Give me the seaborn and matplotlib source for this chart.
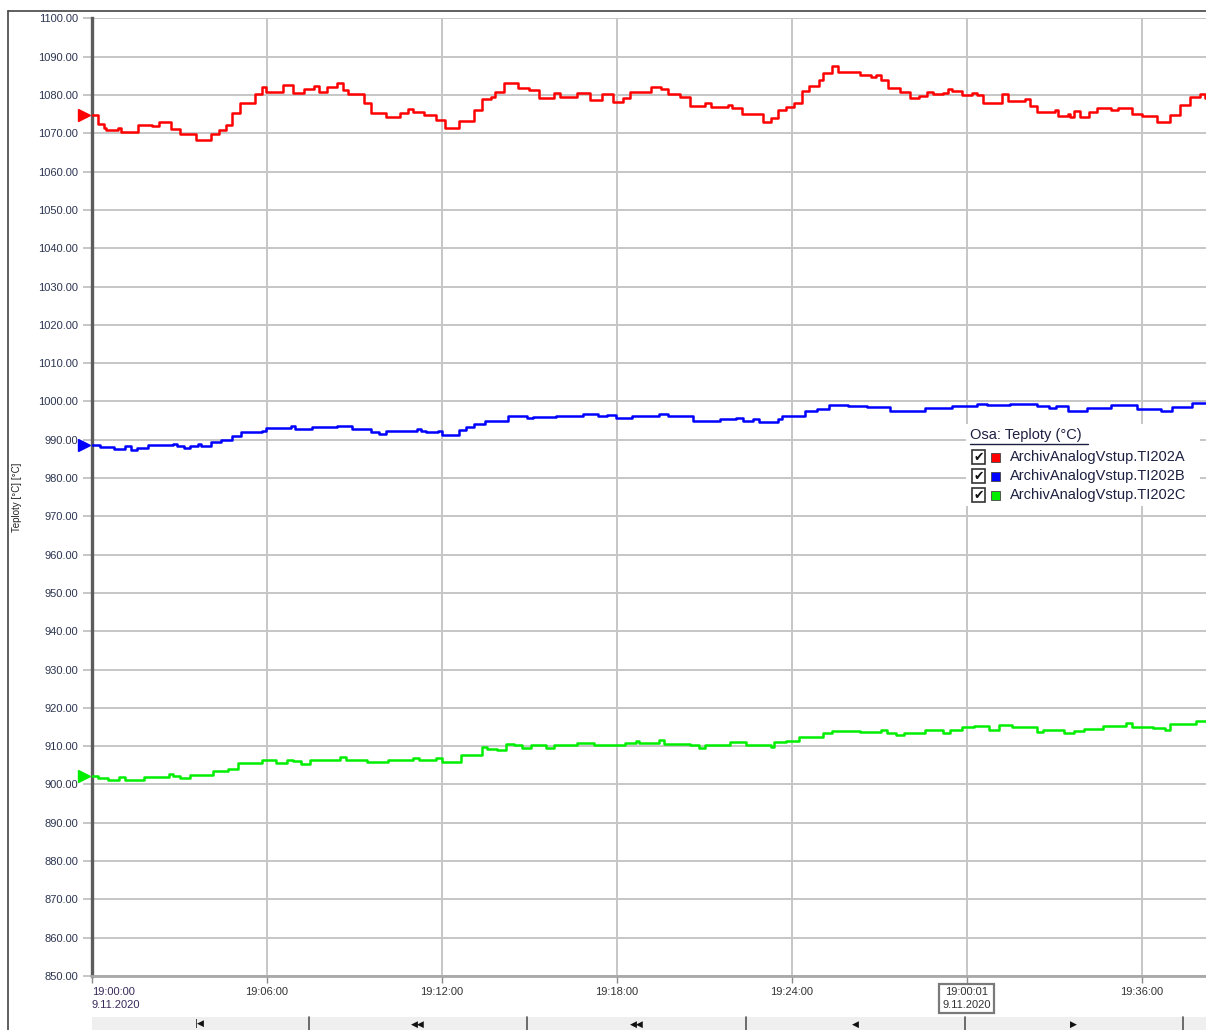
import numpy as np
import pandas as pd
import seaborn as sns
import matplotlib
matplotlib.use("Agg")
import matplotlib.pyplot as plt
import matplotlib.transforms as mtransforms
from matplotlib.patches import Rectangle
from matplotlib.lines import Line2D

# ---------------- data (minutes after 19:00:00, temperature in degC) ----------------
t_red = [0.0, 0.22, 0.42, 0.48, 0.88, 1.01, 1.59, 2.05, 2.31, 2.71,
         3.03, 3.56, 4.08, 4.34, 4.60, 4.80, 5.06, 5.58, 5.84, 5.97,
         6.56, 6.89, 7.28, 7.61, 7.80, 8.07, 8.39, 8.59, 8.78, 9.31,
         9.57, 10.09, 10.55, 10.85, 11.01, 11.40, 11.79, 12.12, 12.58, 13.10,
         13.36, 13.69, 13.82, 14.14, 14.60, 14.99, 15.32, 15.84, 16.04, 16.63,
         17.08, 17.48, 17.87, 18.20, 18.46, 19.18, 19.50, 19.76, 20.16, 20.49,
         21.02, 21.22, 21.81, 21.95, 22.28, 23.01, 23.27, 23.54, 23.80, 24.07,
         24.33, 24.60, 24.93, 25.06, 25.39, 25.59, 26.32, 26.72, 26.87, 27.05,
         27.31, 27.71, 28.04, 28.37, 28.64, 28.83, 29.17, 29.36, 29.50, 29.83,
         30.16, 30.36, 30.56, 31.22, 31.42, 32.01, 32.15, 32.41, 33.01, 33.14,
         33.47, 33.54, 33.67, 33.87, 34.20, 34.46, 34.93, 35.19, 35.66, 35.99,
         36.52, 36.98, 37.31, 37.64, 38.00, 38.17]
v_red = [1074.8, 1072.4, 1071.3, 1070.9, 1071.5, 1070.3, 1072.2, 1071.8, 1073.0, 1071.1,
         1069.8, 1068.3, 1069.8, 1070.9, 1072.2, 1075.4, 1078.0, 1080.3, 1082.2, 1080.9,
         1082.6, 1080.4, 1081.5, 1082.3, 1080.9, 1082.0, 1083.1, 1081.4, 1080.3, 1078.0,
         1075.4, 1074.3, 1075.2, 1076.3, 1075.5, 1074.8, 1073.6, 1071.3, 1073.3, 1076.1,
         1078.9, 1079.5, 1080.9, 1083.1, 1081.7, 1081.3, 1079.1, 1080.4, 1079.5, 1080.6,
         1078.7, 1080.2, 1078.2, 1079.1, 1080.9, 1082.0, 1081.5, 1080.3, 1079.5, 1077.1,
         1077.8, 1076.9, 1077.5, 1076.5, 1075.0, 1073.0, 1073.9, 1076.1, 1076.9, 1078.0,
         1081.1, 1082.3, 1083.9, 1085.8, 1087.6, 1086.1, 1085.3, 1084.7, 1085.3, 1083.8,
         1081.9, 1080.9, 1079.1, 1079.7, 1080.9, 1080.2, 1080.6, 1081.6, 1081.1, 1080.0,
         1080.6, 1080.0, 1078.0, 1080.2, 1078.4, 1078.9, 1077.1, 1075.5, 1076.1, 1074.5,
         1075.0, 1074.3, 1075.7, 1074.3, 1075.5, 1076.7, 1076.1, 1076.7, 1075.0, 1074.5,
         1073.0, 1074.8, 1077.3, 1079.5, 1080.2, 1079.1]

t_blue = [0.0, 0.29, 0.75, 1.14, 1.33, 1.53, 1.92, 2.77, 2.90, 3.16,
          3.36, 3.62, 3.75, 4.08, 4.41, 4.80, 5.12, 5.84, 5.97, 6.82,
          6.95, 7.54, 8.39, 8.91, 9.57, 9.83, 10.09, 11.14, 11.27, 11.46,
          11.86, 12.00, 12.58, 12.84, 13.10, 13.49, 14.27, 14.54, 14.93, 15.12,
          15.91, 16.82, 17.35, 17.67, 17.97, 18.50, 19.43, 19.76, 20.62, 21.55,
          22.08, 22.34, 22.68, 22.87, 23.54, 23.67, 24.46, 24.86, 25.26, 25.92,
          26.58, 27.38, 28.57, 29.50, 30.36, 30.69, 31.49, 32.41, 32.80, 33.07,
          33.47, 34.13, 34.93, 35.85, 36.65, 37.05, 37.71]
v_blue = [988.7, 988.1, 987.6, 988.3, 987.2, 987.8, 988.5, 988.9, 988.3, 987.8,
          988.3, 988.9, 988.4, 989.3, 990.0, 990.9, 992.0, 992.4, 993.0, 993.5,
          992.8, 993.3, 993.5, 992.7, 991.9, 991.5, 992.2, 992.8, 992.2, 991.9,
          992.4, 991.3, 992.6, 993.3, 994.1, 995.0, 996.3, 996.1, 995.6, 995.9,
          996.3, 996.7, 996.1, 996.5, 995.8, 996.3, 996.8, 996.3, 995.0, 995.4,
          995.7, 994.9, 995.4, 994.6, 995.4, 996.1, 997.4, 998.1, 999.1, 998.7,
          998.5, 997.4, 998.3, 998.9, 999.4, 999.0, 999.4, 998.7, 998.3, 998.7,
          997.4, 998.3, 999.1, 998.0, 997.6, 998.5, 999.6]

t_green = [0.0, 0.22, 0.55, 0.94, 1.14, 1.79, 2.64, 2.77, 3.03, 3.36,
           4.14, 4.67, 4.99, 5.84, 6.30, 6.69, 6.89, 7.15, 7.48, 8.52,
           8.72, 9.44, 10.16, 11.01, 11.20, 11.79, 11.99, 12.64, 13.36, 13.56,
           13.88, 14.21, 14.47, 14.73, 15.06, 15.58, 15.84, 16.63, 17.22, 18.26,
           18.64, 18.77, 19.43, 19.63, 20.49, 20.82, 21.02, 21.88, 22.41, 23.27,
           23.40, 23.80, 24.26, 25.06, 25.39, 26.32, 27.05, 27.25, 27.58, 27.84,
           28.57, 29.17, 29.43, 29.83, 30.23, 30.75, 31.09, 31.55, 32.41, 32.61,
           33.34, 33.67, 34.00, 34.66, 35.46, 35.65, 36.38, 36.78, 36.98, 37.84]
v_green = [902.2, 901.7, 901.3, 901.9, 901.3, 901.9, 902.8, 902.2, 901.7, 902.4,
           903.5, 904.1, 905.6, 906.3, 905.5, 906.3, 906.1, 905.4, 906.3, 907.1,
           906.5, 905.8, 906.3, 907.0, 906.3, 907.0, 905.9, 907.8, 909.7, 909.3,
           909.0, 910.6, 910.4, 909.6, 910.2, 909.6, 910.4, 910.9, 910.4, 910.9,
           911.3, 910.9, 911.5, 910.6, 910.2, 909.6, 910.4, 911.0, 910.3, 909.9,
           911.0, 911.3, 912.5, 913.5, 913.9, 913.6, 914.3, 913.4, 912.8, 913.5,
           914.3, 913.5, 914.3, 915.0, 915.2, 914.3, 915.6, 915.1, 913.7, 914.3,
           913.5, 913.9, 914.5, 915.2, 916.0, 915.0, 914.8, 914.3, 915.7, 916.5]

series_names = ["ArchivAnalogVstup.TI202A", "ArchivAnalogVstup.TI202B", "ArchivAnalogVstup.TI202C"]
series_colors = ["#ff0000", "#0000ff", "#00ee00"]

x_ticks = [0, 6, 12, 18, 24, 30, 36]
x_ticklabels = ["19:00:00\n9.11.2020", "19:06:00", "19:12:00", "19:18:00",
                "19:24:00", "19:00:01\n9.11.2020", "19:36:00"]
y_ticks = list(range(850, 1101, 10))
t_end = 38.2

legend_title = "Osa: Teploty (°C)"
y_label = "Teploty [°C] [°C]"
nav_symbols = ["|\u25c0", "\u25c0\u25c0", "\u25c0\u25c0", "\u25c0", "\u25b6"]

# ---------------- build long table ----------------
frames = []
for name, tt, vv in zip(series_names, [t_red, t_blue, t_green], [v_red, v_blue, v_green]):
    tt2 = list(tt) + [t_end]
    vv2 = list(vv) + [vv[-1]]
    frames.append(pd.DataFrame({"t": tt2, "v": vv2, "series": name}))
df = pd.concat(frames, ignore_index=True)

# ---------------- figure ----------------
sns.set_style("white")
plt.rcParams["font.family"] = ["Liberation Sans", "DejaVu Sans"]

W, H = 1206, 1030
fig = plt.figure(figsize=(W / 100, H / 100), dpi=100)
fig.patch.set_facecolor("white")

def fx(px):
    return px / W

def fy(py):
    return 1 - py / H

ax_left, ax_right, ax_top, ax_bottom = 92, 1206, 18.4, 976
ax = fig.add_axes([fx(ax_left), fy(ax_bottom), fx(ax_right - ax_left), (ax_bottom - ax_top) / H])

sns.lineplot(data=df, x="t", y="v", hue="series", palette=series_colors,
             estimator=None, sort=True, drawstyle="steps-post", linewidth=1.8,
             legend=False, ax=ax, zorder=3)

ax.set_xlim(0, t_end)
ax.set_ylim(850, 1100)
ax.set_xlabel("")
ax.set_ylabel("")

ax.set_yticks(y_ticks)
ax.set_yticklabels([f"{v:.2f}" for v in y_ticks])
ax.set_xticks(x_ticks)
ax.set_xticklabels(x_ticklabels)

ax.grid(True, color="#c6c6c6", linewidth=1.4, zorder=0)
ax.set_axisbelow(True)

for side in ["top", "right"]:
    ax.spines[side].set_visible(False)
ax.spines["left"].set_color("#5c5c5c")
ax.spines["left"].set_linewidth(2.4)
ax.spines["bottom"].set_color("#a8a8a8")
ax.spines["bottom"].set_linewidth(2.0)

ax.tick_params(axis="y", length=6.5, width=1.4, color="#c6c6c6", labelsize=8,
               labelcolor="#2c3550", pad=3.5, left=True)
ax.tick_params(axis="x", length=5, width=1.0, color="#8a8a8a", labelsize=8,
               labelcolor="#333333", pad=3, bottom=True)

xlabels = ax.get_xticklabels()
xlabels[0].set_horizontalalignment("left")
xlabels[0].set_color("#3a2a5a")
xlabels[5].set_bbox(dict(boxstyle="square,pad=0.3", facecolor="white",
                         edgecolor="#7a7a7a", linewidth=1.6))
for lab in xlabels:
    lab.set_linespacing(1.35)

# start-value markers (triangles just left of the axis)
offset = mtransforms.ScaledTranslation(-5.5 / 72, 0, fig.dpi_scale_trans)
for tt, vv, col in zip([t_red, t_blue, t_green], [v_red, v_blue, v_green], series_colors):
    ax.plot([tt[0]], [vv[0]], marker=">", markersize=8, color=col, linestyle="none",
            transform=ax.transData + offset, clip_on=False, zorder=5)

# y label
fig.text(fx(17), fy(497), y_label, rotation=90, ha="center", va="center",
         fontsize=7, color="#222222")

# ---------------- legend (custom, as in the viewer) ----------------
fig.patches.append(Rectangle((fx(966), fy(506)), fx(1200 - 966), (506 - 424) / H,
                             transform=fig.transFigure, facecolor="white",
                             edgecolor="none", zorder=10))
fig.text(fx(970), fy(435), legend_title, ha="left", va="center", fontsize=10.5,
         color="#1c2040", zorder=11)
fig.add_artist(Line2D([fx(970), fx(1088)], [fy(443.5), fy(443.5)], color="#1c2040",
                      linewidth=1.0, zorder=11))
entry_y = [457, 476, 495]
for yy, name, col in zip(entry_y, series_names, series_colors):
    fig.patches.append(Rectangle((fx(971.5), fy(yy + 7)), fx(14), 14 / H,
                                 transform=fig.transFigure, facecolor="white",
                                 edgecolor="#333333", linewidth=1.2, zorder=11))
    fig.text(fx(978.5), fy(yy + 0.5), "\u2714", ha="center", va="center", fontsize=9,
             color="#111111", family="DejaVu Sans", zorder=12)
    fig.patches.append(Rectangle((fx(991.5), fy(yy + 4.5)), fx(9), 9 / H,
                                 transform=fig.transFigure, facecolor=col,
                                 edgecolor="#444444", linewidth=0.6, zorder=11))
    fig.text(fx(1010), fy(yy), name, ha="left", va="center", fontsize=10.5,
             color="#1c2040", zorder=11)

# ---------------- viewer frame and navigation strip ----------------
fig.add_artist(Line2D([fx(7.5), fx(1206)], [fy(11), fy(11)], color="#444444", linewidth=1.2))
fig.add_artist(Line2D([fx(7.5), fx(7.5)], [fy(11), fy(1030)], color="#444444", linewidth=1.2))
fig.patches.append(Rectangle((fx(92), 0), fx(1206 - 92), 13.5 / H,
                             transform=fig.transFigure, facecolor="#efefef",
                             edgecolor="none", zorder=1))
for sx in [309, 527, 746, 965, 1183]:
    fig.add_artist(Line2D([fx(sx), fx(sx)], [fy(1016.5), 0], color="#555555", linewidth=1.2))
for cx, sym in zip([200, 418, 637, 855, 1073], nav_symbols):
    fig.text(fx(cx), fy(1024), sym, ha="center", va="center", fontsize=6.5,
             color="#111111", family="DejaVu Sans")

fig.savefig("out.png", dpi=100, facecolor="white")
